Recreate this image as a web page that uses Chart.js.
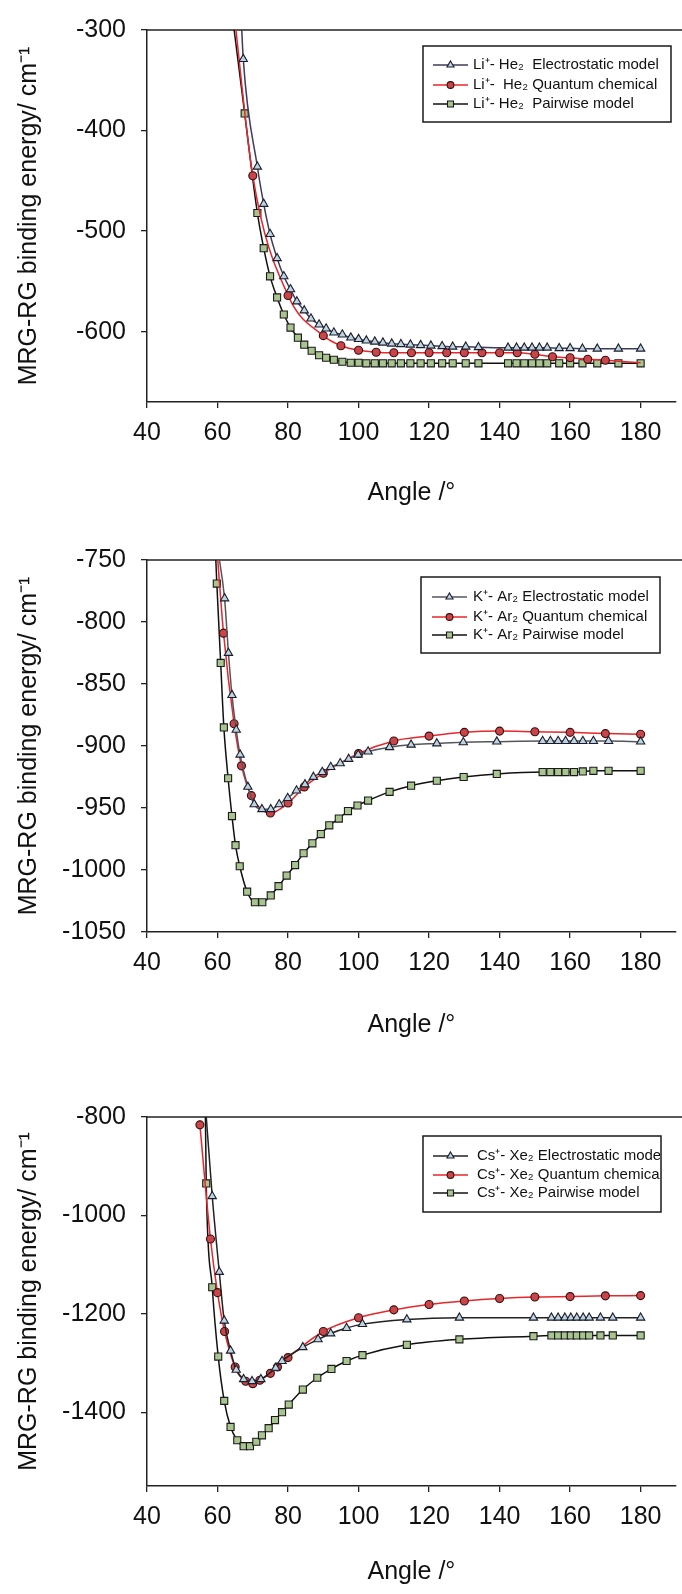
<!DOCTYPE html>
<html>
<head>
<meta charset="utf-8">
<script src="https://cdn.jsdelivr.net/npm/chart.js@4.4.1/dist/chart.umd.min.js"></script>
<style>
  html, body { margin: 0; padding: 0; background: #fff; }
  body { width: 682px; height: 1594px; position: relative; overflow: hidden; }
  canvas { position: absolute; left: 0; }
</style>
</head>
<body>
<canvas id="liChart" style="top:0px;width:682px;height:530px" width="682" height="530"></canvas>
<canvas id="kChart" style="top:530px;width:682px;height:530px" width="682" height="530"></canvas>
<canvas id="csChart" style="top:1060px;width:682px;height:534px" width="682" height="534"></canvas>
<script>
// x ticks shared by all three panels
const angleTicks = [40, 60, 80, 100, 120, 140, 160, 180];

// Li+ - He2
const liElecAngle = [66.5, 67.3, 71.3, 73.1, 74.9, 76.9, 78.8, 80.7, 82.5, 84.6, 86.5, 88.8, 90.8, 93.0, 95.4, 97.8, 100.0, 102.2, 104.6, 106.9, 109.4, 112.0, 114.7, 117.6, 120.5, 123.7, 126.7, 130.4, 134.0, 142.4, 144.8, 147.0, 149.2, 151.3, 153.5, 156.9, 160.0, 163.5, 167.7, 173.7, 180];
const liElecEnergy = [-270, -329, -436, -473, -503, -527, -545, -558, -570, -579, -587, -593, -597, -601, -603, -606, -607.5, -609, -610, -611, -612, -612.5, -613, -613.5, -614, -614.5, -615, -615, -615.5, -616, -616, -616, -616, -616, -616, -616.5, -616.5, -617, -617, -617, -617];
const liQcAngle = [64.6, 70, 80, 90, 95, 100, 105, 110, 115, 120, 125, 130, 135, 140, 145, 150, 155, 160, 165, 170, 180];
const liQcEnergy = [-280, -445, -564, -604, -614, -618.5, -620.5, -621, -621, -621, -621, -621, -621, -621, -621, -622.5, -625, -626, -627.5, -628.5, -631];
const liPairAngle = [64.0, 67.7, 71.3, 73.1, 74.9, 76.9, 78.8, 80.7, 82.8, 84.6, 86.7, 88.8, 90.8, 93.0, 95.4, 97.8, 100.0, 102.2, 104.6, 106.9, 109.4, 112.0, 114.7, 117.6, 120.5, 123.7, 126.7, 130.4, 134.0, 142.4, 144.8, 147.0, 149.2, 151.3, 153.5, 156.9, 160.0, 163.5, 167.7, 173.7, 180];
const liPairEnergy = [-280, -383, -482, -517, -545, -566, -583, -596, -606, -613, -619, -623.5, -626, -628, -630, -631, -631, -631.5, -631.5, -631.5, -631.5, -631.5, -631.5, -631.5, -631.5, -631.5, -631.5, -631.5, -631.5, -631.5, -631.5, -631.5, -631.5, -631.5, -631.5, -631.5, -631.5, -631.5, -631.5, -631.5, -631.5];
const liTicks = [-300, -400, -500, -600];

// K+ - Ar2
const kElecAngle = [60.0, 62.0, 63.1, 64.1, 65.3, 66.4, 68.6, 70.4, 72.6, 75.1, 77.5, 79.9, 82.4, 84.8, 87.2, 89.7, 92.1, 94.8, 97.2, 99.9, 102.7, 108.8, 114.9, 122.2, 129.7, 139.2, 152.2, 154.4, 156.6, 158.7, 161.1, 163.6, 166.6, 170.9, 180];
const kElecEnergy = [-740, -781, -825, -859, -887, -907, -933, -947, -951, -951, -947, -942, -936, -931, -925, -921, -917, -914, -910.5, -907, -904.5, -901, -899, -898, -897, -896.5, -896, -896, -896, -896, -896, -896, -896, -896, -896.5];
const kQcAngle = [59.8, 61.7, 64.7, 66.8, 69.6, 75, 80, 84.6, 90, 100, 110, 120, 130, 140, 150, 160, 170, 180];
const kQcEnergy = [-740, -809, -882, -916, -940, -954, -946, -933, -922, -906, -896, -892, -889, -888, -888.5, -889, -890, -890.5];
const kPairAngle = [59.3, 59.8, 60.9, 61.8, 63.0, 64.1, 65.1, 66.3, 68.4, 70.6, 72.7, 75.1, 77.3, 79.6, 82.0, 84.4, 86.9, 89.3, 91.7, 94.4, 97.0, 99.7, 102.7, 108.8, 114.9, 122.2, 129.8, 139.2, 152.2, 154.4, 156.6, 158.7, 161.1, 163.6, 166.6, 170.9, 180];
const kPairEnergy = [-735, -769, -833, -885, -926, -956.5, -980, -997, -1017.5, -1026, -1026, -1020.5, -1013, -1004.5, -996, -986.5, -978.5, -971, -964, -958.5, -952.5, -948, -944, -937, -932, -928, -925, -922.5, -921, -921, -921, -921, -921, -920.5, -920, -920, -920];
const kTicks = [-750, -800, -850, -900, -950, -1000, -1050];

// Cs+ - Xe2
const csElecAngle = [56.4, 58.5, 60.5, 61.9, 63.7, 65.3, 67.4, 69.8, 72.3, 76.5, 78.3, 84.2, 88.5, 92.1, 96.6, 101.1, 113.7, 128.6, 149.6, 154.7, 156.6, 158.5, 160.2, 161.9, 163.7, 165.4, 168.6, 172.1, 180];
const csElecEnergy = [-760, -961, -1115, -1214, -1275, -1314, -1333, -1337, -1333, -1310, -1296, -1268, -1252, -1240, -1229, -1221, -1211.5, -1208, -1208, -1208, -1208, -1208, -1208, -1208, -1208, -1208, -1208, -1208, -1208];
const csQcAngle = [55, 58, 60, 62, 65, 68, 70, 72, 75, 77, 80, 90, 100, 110, 120, 130, 140, 150, 160, 170, 180];
const csQcEnergy = [-816, -1048, -1157, -1236, -1308, -1337, -1342, -1335, -1321, -1308, -1289, -1236, -1208, -1192, -1181, -1174, -1169, -1166, -1165, -1163.5, -1163];
const csPairAngle = [56.4, 56.8, 58.5, 60.2, 61.9, 63.7, 65.6, 67.4, 69.2, 71.0, 72.6, 74.5, 76.3, 78.3, 80.2, 84.2, 88.3, 92.3, 96.6, 101.1, 113.7, 128.6, 149.6, 154.7, 156.6, 158.5, 160.2, 161.9, 163.7, 165.4, 168.6, 172.1, 180];
const csPairEnergy = [-700, -935, -1146, -1287, -1377, -1430, -1457, -1469, -1469, -1460, -1447, -1432.5, -1416, -1400, -1384.5, -1354, -1330, -1312, -1296, -1284, -1263, -1252, -1245.5, -1244, -1244, -1244, -1244, -1244, -1244, -1244, -1244, -1244, -1244];
const csTicks = [-800, -1000, -1200, -1400];

Chart.defaults.font.family = '"Liberation Sans", Arial, sans-serif';
Chart.defaults.color = "#111";

function pts(xs, ys) {
  return xs.map((x, i) => ({ x: x, y: ys[i] }));
}

function series(label, xs, ys, kind, lineColor, hideLast) {
  const styles = {
    elec: { pointStyle: "triangle", pointRadius: 4.8, pointBackgroundColor: "#bcd5df", pointBorderColor: "#1c1c2e" },
    qc: { pointStyle: "circle", pointRadius: 4, pointBackgroundColor: "#c9454a", pointBorderColor: "#3a0d0d" },
    pair: { pointStyle: "rect", pointRadius: 5, pointBackgroundColor: "#a9c58f", pointBorderColor: "#1a1a1a" },
  };
  const ds = Object.assign({
    label: label,
    data: pts(xs, ys),
    borderColor: lineColor,
    borderWidth: 1.5,
    pointBorderWidth: 1.1,
    cubicInterpolationMode: "monotone",
    clip: 0,
  }, styles[kind]);
  ds.markerSize = ds.pointRadius;
  if (hideLast) {
    // last point sits under the pairwise square, only the line reaches it
    ds.pointRadius = xs.map((x, i) => (i === xs.length - 1 ? 0 : ds.markerSize));
  }
  return ds;
}

// legend box drawn by hand so that the line + marker look like the original
const legendBox = {
  id: "legendBox",
  afterDraw(chart, args, o) {
    const ctx = chart.ctx;
    ctx.save();
    ctx.fillStyle = "#fff";
    ctx.fillRect(o.x, o.y, o.w, o.h);
    ctx.strokeStyle = "#1a1a1a";
    ctx.lineWidth = 1.5;
    ctx.strokeRect(o.x, o.y, o.w, o.h);
    ctx.beginPath();
    ctx.rect(o.x, o.y, o.w - 1, o.h);
    ctx.clip();
    chart.data.datasets.forEach((ds, i) => {
      const ry = o.rows[i];
      ctx.strokeStyle = ds.borderColor;
      ctx.lineWidth = 1.5;
      ctx.beginPath();
      ctx.moveTo(o.lineX, ry);
      ctx.lineTo(o.lineX + 35, ry);
      ctx.stroke();
      ctx.fillStyle = ds.pointBackgroundColor;
      ctx.strokeStyle = ds.pointBorderColor;
      ctx.lineWidth = 1.1;
      Chart.helpers.drawPoint(ctx, { pointStyle: ds.pointStyle, radius: ds.markerSize * 0.85, borderWidth: 1.1, rotation: 0 }, o.lineX + 17.5, ry);
      ctx.fillStyle = "#111";
      ctx.font = '15px "Liberation Sans", Arial, sans-serif';
      ctx.textBaseline = "middle";
      ctx.fillText(ds.label, o.textX, ry);
    });
    ctx.restore();
  },
};

// frame line along the top of the plot, running to the page edge
const topLine = {
  id: "topLine",
  beforeDatasetsDraw(chart) {
    const { ctx, chartArea } = chart;
    ctx.save();
    ctx.strokeStyle = "#222";
    ctx.lineWidth = 1.5;
    ctx.beginPath();
    ctx.moveTo(chartArea.left, chartArea.top);
    ctx.lineTo(chart.width, chartArea.top);
    ctx.stroke();
    ctx.restore();
  },
};

function makeChart(id, datasets, cfg) {
  return new Chart(document.getElementById(id), {
    type: "line",
    data: { datasets: datasets },
    options: {
      responsive: false,
      animation: false,
      events: [],
      layout: { padding: { top: cfg.top, right: 0, bottom: 0, left: 0 } },
      plugins: { legend: { display: false }, tooltip: { enabled: false }, legendBox: cfg.legend },
      scales: {
        x: {
          type: "linear",
          min: 40,
          max: 190,
          afterBuildTicks: (s) => { s.ticks = angleTicks.map((v) => ({ value: v })); },
          afterFit: (s) => { s.height = cfg.xAxisH; },
          border: { display: true, color: "#222", width: 1.5 },
          grid: { display: true, drawOnChartArea: false, drawTicks: true, tickLength: 6, color: "#222", lineWidth: 1.3 },
          ticks: { font: { size: 25 }, padding: 10, maxRotation: 0, autoSkip: false, color: "#111" },
          title: { display: true, text: "Angle /°", font: { size: 25 }, color: "#111", padding: { top: 0, bottom: cfg.titlePad } },
        },
        y: {
          min: cfg.yMin,
          max: cfg.yMax,
          afterBuildTicks: (s) => { s.ticks = cfg.yTicks.map((v) => ({ value: v })); },
          afterFit: (s) => { s.width = 147; },
          border: { display: true, color: "#222", width: 1.5 },
          grid: { display: true, drawOnChartArea: false, drawTicks: true, tickLength: 6, color: "#222", lineWidth: 1.3 },
          ticks: { font: { size: 25 }, padding: 15, autoSkip: false, color: "#111", callback: (v) => String(v) },
          title: { display: true, text: "MRG-RG binding energy/ cm⁻¹", font: { size: 25 }, color: "#111", padding: { top: 14, bottom: 0 } },
        },
      },
    },
    plugins: [topLine, legendBox],
  });
}

makeChart("liChart", [
  series("Li⁺- He₂  Electrostatic model", liElecAngle, liElecEnergy, "elec", "#3b3b5c"),
  series("Li⁺-  He₂ Quantum chemical", liQcAngle, liQcEnergy, "qc", "#e8262b", true),
  series("Li⁺- He₂  Pairwise model", liPairAngle, liPairEnergy, "pair", "#111"),
], {
  top: 26, xAxisH: 128, titlePad: 22, yMin: -670, yMax: -300, yTicks: liTicks,
  legend: { x: 423, y: 46, w: 248, h: 76, rows: [65, 85, 104], lineX: 433, textX: 473 },
});

makeChart("kChart", [
  series("K⁺- Ar₂ Electrostatic model", kElecAngle, kElecEnergy, "elec", "#55555f"),
  series("K⁺- Ar₂ Quantum chemical", kQcAngle, kQcEnergy, "qc", "#e8262b"),
  series("K⁺- Ar₂ Pairwise model", kPairAngle, kPairEnergy, "pair", "#111"),
], {
  top: 28, xAxisH: 128, titlePad: 20, yMin: -1050, yMax: -750, yTicks: kTicks,
  legend: { x: 421, y: 47, w: 239, h: 76, rows: [67, 87, 105], lineX: 432, textX: 473 },
});

makeChart("csChart", [
  series("Cs⁺- Xe₂ Electrostatic model", csElecAngle, csElecEnergy, "elec", "#222"),
  series("Cs⁺- Xe₂ Quantum chemical", csQcAngle, csQcEnergy, "qc", "#e8262b"),
  series("Cs⁺- Xe₂ Pairwise model", csPairAngle, csPairEnergy, "pair", "#111"),
], {
  top: 57, xAxisH: 108, titlePad: 7, yMin: -1550, yMax: -800, yTicks: csTicks,
  legend: { x: 423, y: 76, w: 238, h: 76, rows: [96, 115, 133], lineX: 433, textX: 477 },
});
</script>
</body>
</html>
